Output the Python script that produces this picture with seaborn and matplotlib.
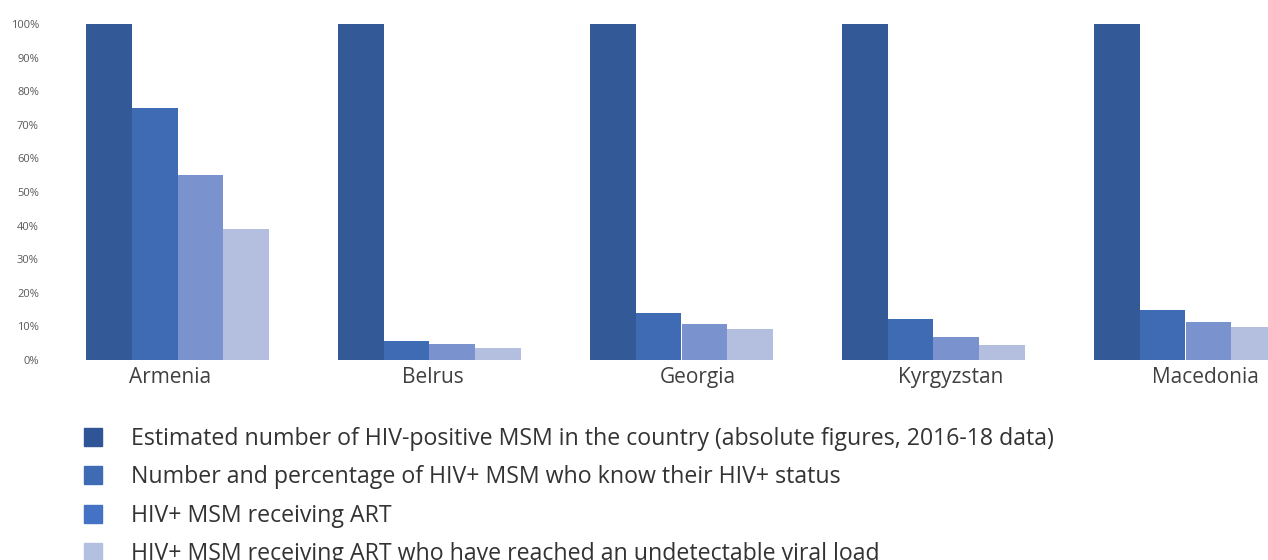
import matplotlib
matplotlib.use("Agg")
import matplotlib.pyplot as plt
import matplotlib.transforms as mtransforms
import seaborn as sns
import pandas as pd
from matplotlib.lines import Line2D

countries = ["Armenia", "Belrus", "Georgia", "Kyrgyzstan", "Macedonia"]
series = [
    "Estimated number of HIV-positive MSM in the country (absolute figures, 2016-18 data)",
    "Number and percentage of HIV+ MSM who know their HIV+ status",
    "HIV+ MSM receiving ART",
    "HIV+ MSM receiving ART who have reached an undetectable viral load",
]
estimated = [100, 100, 100, 100, 100]
know_status = [75, 5.7, 14.1, 12.1, 14.9]
receiving_art = [55, 4.8, 10.7, 6.8, 11.2]
undetectable = [39, 3.7, 9.3, 4.4, 9.9]
yticks = [0, 10, 20, 30, 40, 50, 60, 70, 80, 90, 100]

bar_colors = ["#335a97", "#3f6bb5", "#7a93cf", "#b4bfdf"]
legend_colors = ["#2f5597", "#3f6bb5", "#4472c4", "#b4c0e0"]

rows = []
for vals, s in zip([estimated, know_status, receiving_art, undetectable], series):
    for c, v in zip(countries, vals):
        rows.append({"country": c, "series": s, "value": v})
df = pd.DataFrame(rows)

sns.set_theme(style="white")
plt.rcParams["font.family"] = ["Open Sans", "DejaVu Sans"]

W, H = 1268, 560
fig = plt.figure(figsize=(W / 100, H / 100), dpi=100)
ax_left, ax_bottom, ax_top = 50, 360, 24
ax = fig.add_axes([ax_left / W, 1 - ax_bottom / H, 1 - ax_left / W, (ax_bottom - ax_top) / H])

sns.barplot(data=df, x="country", y="value", hue="series", hue_order=series,
            order=countries, palette=bar_colors, saturation=1, width=0.726, ax=ax,
            linewidth=0, legend=False)

x0 = 177.5
unit = 252.0
ax.set_xlim((ax_left - x0) / unit, (W - x0) / unit)
ax.set_ylim(0, 100)
ax.set_yticks(yticks)
ax.set_yticklabels([f"{t}%" for t in yticks], fontsize=8, color="#595959")
ax.tick_params(axis="x", labelsize=15, colors="#404040", pad=5, length=0)
ax.tick_params(axis="y", length=0, pad=8)
ax.set_xlabel("")
ax.set_ylabel("")
for s in ax.spines.values():
    s.set_visible(False)

# the source places the category labels slightly off-centre
label_shift_px = [-7, 3, 16, 17, 20]
for lab, dx in zip(ax.get_xticklabels(), label_shift_px):
    lab.set_transform(lab.get_transform() + mtransforms.ScaledTranslation(dx / 100, 0, fig.dpi_scale_trans))

handles = [Line2D([0], [0], marker="s", linestyle="none", markersize=13,
                  markerfacecolor=c, markeredgecolor=c) for c in legend_colors]
leg = fig.legend(handles, series, loc="upper left", bbox_to_anchor=(70 / W, 1 - 427 / H),
                 frameon=False, fontsize=16.7, labelspacing=0.62, handletextpad=0.65,
                 borderaxespad=0, borderpad=0)
for t in leg.get_texts():
    t.set_color("#333333")

fig.savefig("out.png", dpi=100)
